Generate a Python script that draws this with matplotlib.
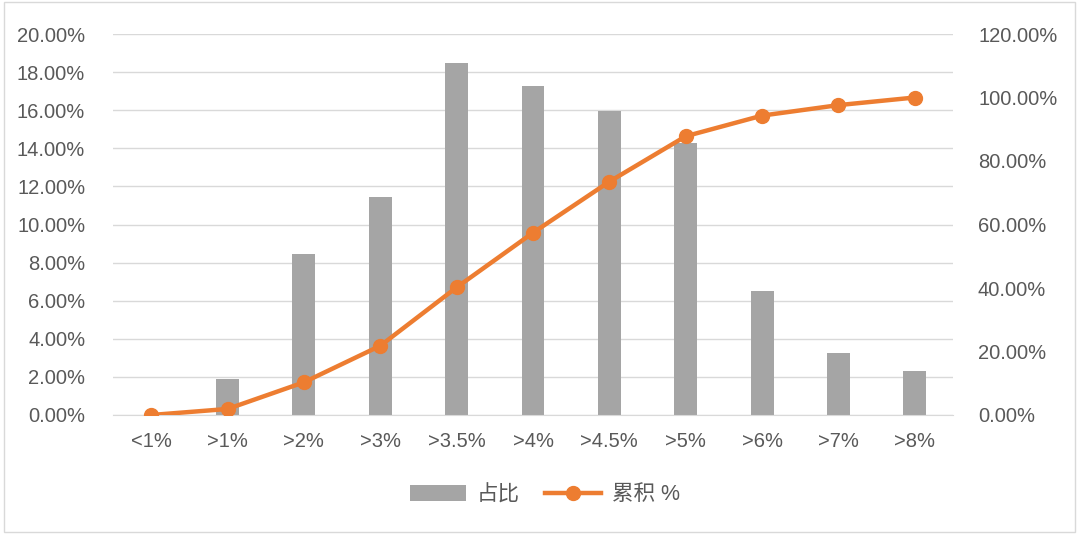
import matplotlib.pyplot as plt
from matplotlib.patches import Rectangle
from matplotlib.ticker import FuncFormatter

plt.rcParams['font.family'] = ['Liberation Sans', 'Noto Sans CJK SC', 'DejaVu Sans']

# 数据
categories = ['<1%', '>1%', '>2%', '>3%', '>3.5%', '>4%', '>4.5%', '>5%', '>6%', '>7%', '>8%']
share = [0.0, 1.9, 8.45, 11.45, 18.48, 17.28, 15.97, 14.28, 6.52, 3.27, 2.3]
cumulative = [0.0, 1.9, 10.3, 21.8, 40.2, 57.4, 73.5, 87.8, 94.3, 97.6, 100.0]

text_color = '#595959'
grid_color = '#d9d9d9'
bar_color = '#a5a5a5'
line_color = '#ed7d31'

fig = plt.figure(figsize=(10.8, 5.38), dpi=100)
ax = fig.add_axes([113 / 1080, 1 - 415 / 538, (953 - 113) / 1080, (415 - 34) / 538])
ax2 = ax.twinx()

x = list(range(len(categories)))
bars = ax.bar(x, share, width=0.3, color=bar_color, label='占比', zorder=2)
line, = ax2.plot(x, cumulative, color=line_color, linewidth=3.2, marker='o',
                 markersize=10, label='累积 %', zorder=3)

ax.set_xlim(-0.5, len(categories) - 0.5)
ax.set_ylim(0, 20)
ax.set_yticks(range(0, 21, 2))
ax2.set_ylim(0, 120)
ax2.set_yticks(range(0, 121, 20))
ax.yaxis.set_major_formatter(FuncFormatter(lambda v, p: f'{v:.2f}%'))
ax2.yaxis.set_major_formatter(FuncFormatter(lambda v, p: f'{v:.2f}%'))
ax.set_xticks(x)
ax.set_xticklabels(categories)

ax.grid(axis='y', color=grid_color, linewidth=1, zorder=0)
ax.set_axisbelow(True)
for a in (ax, ax2):
    for s in a.spines.values():
        s.set_visible(False)
    a.tick_params(length=0, colors=text_color, labelsize=14.5)
ax.spines['bottom'].set_visible(True)
ax.spines['bottom'].set_color(grid_color)
ax.tick_params(axis='y', pad=20)
ax2.tick_params(axis='y', pad=18)
ax.tick_params(axis='x', pad=12)

ax2.set_zorder(ax.get_zorder() + 1)
ax2.patch.set_visible(False)

fig.legend(handles=[bars, line], loc='center', bbox_to_anchor=(545 / 1080, 1 - 495 / 538),
           ncol=2, frameon=False, fontsize=15.5, labelcolor=text_color,
           handlelength=2.6, columnspacing=1.2, handletextpad=0.5)

# 外框
fig.patches.append(Rectangle((4 / 1080, 6 / 538), 1071 / 1080, 530 / 538,
                             transform=fig.transFigure, fill=False,
                             edgecolor='#d9d9d9', linewidth=1))

fig.savefig('out.png', dpi=100)
